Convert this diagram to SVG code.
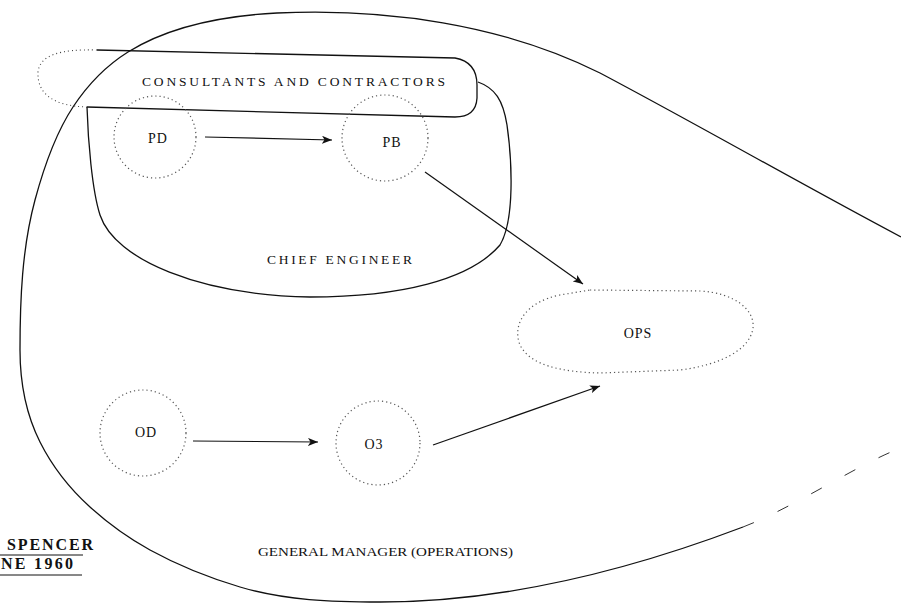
<svg xmlns="http://www.w3.org/2000/svg" width="901" height="607" viewBox="0 0 901 607">
<defs>
<marker id="ah" viewBox="0 0 10 8" refX="10" refY="4" markerWidth="10" markerHeight="8" markerUnits="userSpaceOnUse" orient="auto">
<path d="M0,0 L10,4 L0,8 L2.5,4 Z" fill="#111"/>
</marker>
<style>
.bound{fill:none;stroke:#111;stroke-width:1.3}
.faint{fill:none;stroke:#333;stroke-width:1;stroke-dasharray:12 26}
.dotb{fill:none;stroke:#444;stroke-width:1.1;stroke-dasharray:1 3}
.node{fill:none;stroke:#555;stroke-width:1.2;stroke-dasharray:1.2 3}
.conn{fill:none;stroke:#111;stroke-width:1.2;marker-end:url(#ah)}
.lbl{font-family:"Liberation Serif","DejaVu Serif",serif;font-size:14px;fill:#111}
.cap{font-family:"Liberation Serif","DejaVu Serif",serif;font-size:13.5px;fill:#111}
.sig{font-family:"Liberation Serif","DejaVu Serif",serif;font-size:16px;font-weight:bold;fill:#111}
</style>
</defs>
<rect width="901" height="607" fill="#fff"/>

<g id="general-manager">
<path class="bound" d="M901,237 C800,183.5 701,126.5 600,73 C502.5,24.2 386,8 277,13 C226,15.6 171.4,25 128,52 C106,65.8 87.3,85.3 73,107 C54.8,134.6 43.6,168.1 35,200 C22,248.3 20,300 20,350 C20,381 26.1,414.3 40,442 C52.1,466.1 70,488.9 90,507 C108.2,523.5 128.4,538.1 150,550 C178.4,565.6 209,577.7 240,587 C285,600.5 333,602 380,602 C504,602 627,571 743,527"/>
<path class="faint" d="M743,527 C793,508 860,463 901,448"/>
<text class="cap" x="258" y="556" textLength="255" lengthAdjust="spacingAndGlyphs">GENERAL MANAGER (OPERATIONS)</text>
</g>

<g id="consultants">
<path class="bound" d="M97,50 L455,58 Q477,62 477,85 L477,98 Q476,117 455,117 L87,107"/>
<path class="dotb" d="M97,50 C60,49 40,55 38,72 C37,95 55,106 87,107"/>
<text class="cap" x="142" y="86" textLength="303" lengthAdjust="spacing">CONSULTANTS AND CONTRACTORS</text>
</g>

<g id="chief-engineer">
<path class="bound" d="M87,107 C88,140 92,190 100,215 C115,260 200,295 310,297 C400,297 470,280 500,245 C515,220 512,160 507,125 C503,100 495,88 478,82"/>
<text class="cap" x="267" y="264" textLength="145" lengthAdjust="spacing">CHIEF ENGINEER</text>
</g>

<g id="PD">
<circle class="node" cx="155" cy="137" r="41"/>
<text class="lbl" x="158" y="143" text-anchor="middle" letter-spacing="1">PD</text>
</g>
<g id="PB">
<circle class="node" cx="385" cy="138" r="43"/>
<text class="lbl" x="392" y="147" text-anchor="middle" letter-spacing="1">PB</text>
</g>
<g id="OPS">
<path class="node" d="M590,290 L700,291 C735,293 755,310 753,328 C750,350 720,365 680,370 L600,373 C560,372 530,365 520,345 C512,325 525,302 560,295 Z"/>
<text class="lbl" x="638" y="338" text-anchor="middle" letter-spacing="1">OPS</text>
</g>
<g id="OD">
<circle class="node" cx="143" cy="433" r="43"/>
<text class="lbl" x="146" y="437" text-anchor="middle" letter-spacing="1">OD</text>
</g>
<g id="OB">
<circle class="node" cx="378" cy="443" r="42"/>
<text class="lbl" x="374" y="449" text-anchor="middle" letter-spacing="1">O3</text>
</g>

<g id="connectors">
<line class="conn" x1="205" y1="137" x2="332" y2="140"/>
<line class="conn" x1="425" y1="172" x2="583" y2="284"/>
<line class="conn" x1="193" y1="441" x2="318" y2="442"/>
<line class="conn" x1="433" y1="445" x2="600" y2="386"/>
</g>

<g id="signature">
<text class="sig" x="7" y="550" textLength="86" lengthAdjust="spacing">SPENCER</text>
<line x1="0" y1="555" x2="83" y2="555" stroke="#111" stroke-width="1"/>
<text class="sig" x="1" y="569" textLength="72" lengthAdjust="spacing">NE 1960</text>
<line x1="0" y1="575" x2="82" y2="575" stroke="#111" stroke-width="1"/>
</g>
</svg>
